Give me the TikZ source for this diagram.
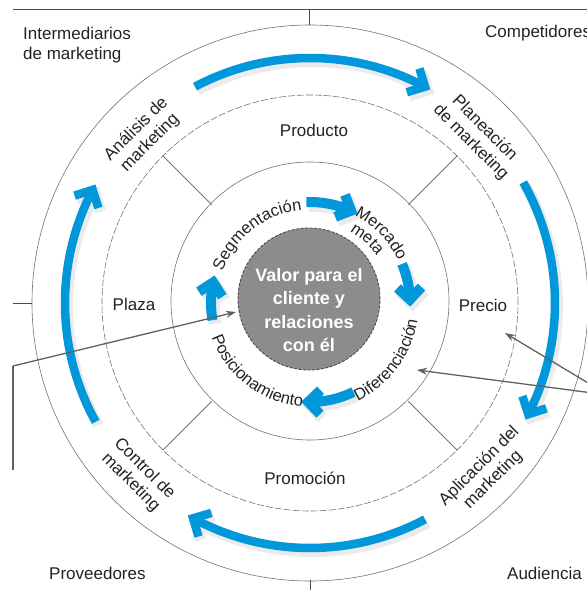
\documentclass[tikz,border=0pt]{standalone}
\usepackage{fontspec}
\setmainfont{Liberation Sans}
\usetikzlibrary{arrows.meta,decorations.text}
\definecolor{mblue}{RGB}{0,152,218}
\definecolor{cgray}{RGB}{140,140,142}
\definecolor{txt}{RGB}{35,35,35}
\newcommand\arcfont{\fontsize{16.5}{19}\selectfont\color{txt}}
% #1 style, #2 start angle, #3 end angle, #4 radius, #5 arm length
\newcommand\arcarrow[5]{%
  \draw[#1] (#2:#4) arc[start angle=#2, end angle=#3, radius=#4];
  \draw[#1, miter limit=10] ([shift={(#3+45:#5)}]#3:#4) -- (#3:#4) -- ([shift={(#3+135:#5)}]#3:#4);
}
\begin{document}
\begin{tikzpicture}[x=1pt,y=1pt,
  ring/.style={draw=black!55, line width=0.6pt},
  frame/.style={draw=black!70, line width=1pt},
  bigarrow/.style={draw=mblue, line width=8.5pt},
  smallarrow/.style={draw=mblue, line width=10pt},
  bigshadow/.style={draw=black!8, line width=11pt},
  smallshadow/.style={draw=black!8, line width=12.5pt},
  lbl/.style={font=\fontsize{17}{19.5}\selectfont, text=txt, align=center, inner sep=0pt},
  leader/.style={draw=black!62, line width=1.3pt},
  ltip/.style={-{Stealth[length=10pt,width=7pt]}},
  arctext/.style={decorate, decoration={text along path, text align=#1}},
]
\useasboundingbox (-310,-287) rectangle (277,303);
\fill[white] (-310,-287) rectangle (277,303);

% shadows of blue arrows
\begin{scope}[shift={(2.5,-3.5)}]
\arcarrow{bigshadow}{118}{62}{245}{19}
\arcarrow{bigshadow}{29.5}{-27}{245}{19}
\arcarrow{bigshadow}{-62}{-118.5}{245}{19}
\arcarrow{bigshadow}{209}{152.5}{245}{19}
\arcarrow{smallshadow}{92}{66}{101}{17}
\arcarrow{smallshadow}{23}{2}{100}{17}
\arcarrow{smallshadow}{-64}{-91}{99}{17}
\arcarrow{smallshadow}{190}{168}{99}{17}
\end{scope}

% rings
\draw[ring] (0,0) circle[radius=278];
\draw[ring, dash pattern=on 7pt off 2pt] (0,0) circle[radius=208];
\draw[ring] (0,2) circle[radius=139];
\foreach \a in {45,135,225,315} \draw[ring, line width=0.8pt] (\a:139) -- (\a:208);

% frame lines
\draw[frame] (-297,294) -- (277,294);
\draw[frame] (0,294) -- (0,278);
\draw[frame] (-297,0) -- (-278,0);
\draw[frame] (1,-277) -- (1,-287);

% central circle
\node[circle, draw=black!75, dash pattern=on 3pt off 1.5pt, line width=0.8pt, fill=cgray, minimum size=142pt, inner sep=0pt] (core) at (-1,4) {};
\node[font=\fontsize{18}{23.5}\selectfont\bfseries, text=white, align=center, inner sep=0pt] (valor) at (-1,-7) {Valor para el\\cliente y\\relaciones\\con él};

% blue arrows
\arcarrow{bigarrow}{118}{62}{245}{19}
\arcarrow{bigarrow}{29.5}{-27}{245}{19}
\arcarrow{bigarrow}{-62}{-118.5}{245}{19}
\arcarrow{bigarrow}{209}{152.5}{245}{19}
\arcarrow{smallarrow}{92}{66}{101}{17}
\arcarrow{smallarrow}{23}{2}{100}{17}
\arcarrow{smallarrow}{-64}{-91}{99}{17}
\arcarrow{smallarrow}{190}{168}{99}{17}

% outer ring labels
\node[lbl, rotate=45] (analisis) at (135:236) {Análisis de\\marketing};
\node[lbl, rotate=-45] (planeacion) at (45:237) {Planeación\\de marketing};
\node[lbl, rotate=45] (aplicacion) at (-44:245) {Aplicación del\\marketing};
\node[lbl, rotate=-45] (control) at (225:244) {Control de\\marketing};

% 4P labels
\node[lbl] (producto) at (4,173) {Producto};
\node[lbl] (plaza) at (-176,-1) {Plaza};
\node[lbl] (precio) at (173,-2) {Precio};
\node[lbl] (promocion) at (-5,-175) {Promoción};

% inner curved labels
\path[arctext=center, decoration={text={|\arcfont|Segmentación}}] (175:93) arc[start angle=175, end angle=80, radius=93];
\path[arctext=left, decoration={text={|\arcfont|Mercado}}] (63:98) arc[start angle=63, end angle=-10, radius=98];
\path[arctext=left, decoration={text={|\arcfont|meta}}] (61:82) arc[start angle=61, end angle=-10, radius=82];
\path[arctext=center, decoration={text={|\arcfont|Diferenciación}}] (-90:109) arc[start angle=-90, end angle=17, radius=109];
\path[arctext=center, decoration={text={|\arcfont|Posicionamiento}}] (180:104) arc[start angle=180, end angle=285, radius=104];

% corner labels
\node[lbl, align=left, anchor=west] (intermediarios) at (-287,258) {Intermediarios\\de marketing};
\node[lbl, anchor=west] (competidores) at (175,270) {Competidores};
\node[lbl, anchor=west] (proveedores) at (-261,-270) {Proveedores};
\node[lbl, anchor=west] (audiencia) at (197,-270) {Audiencia};

% leaders
\coordinate (L1) at (-297,-167);
\coordinate (L2) at (-297,-63);
\coordinate (Ltip) at (-74,-9);
\coordinate (R0) at (298,-92);
\coordinate (Rtip1) at (195,-30);
\coordinate (Rtip2) at (107,-67);
\draw[leader] (L1) -- (L2);
\draw[leader, ltip] (L2) -- (Ltip);
\draw[leader, ltip] (R0) -- (Rtip1);
\draw[leader, ltip] (R0) -- (Rtip2);
\end{tikzpicture}
\end{document}
